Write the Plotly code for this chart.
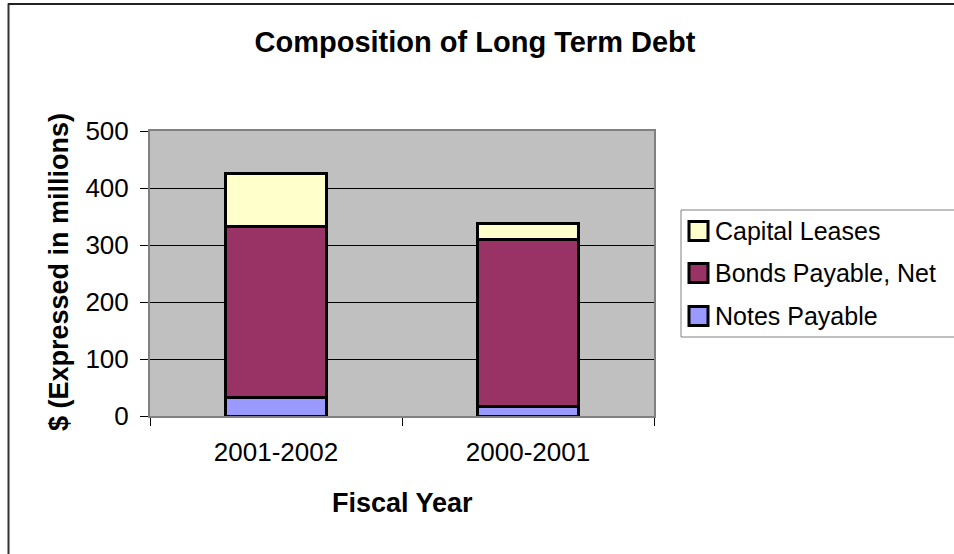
import plotly.graph_objects as go

categories = ["2001-2002", "2000-2001"]
notes_payable = [32, 16]
bonds_payable = [301, 294]
capital_leases = [92, 27]
series_names = ["Capital Leases", "Bonds Payable, Net", "Notes Payable"]
colors = {"Notes Payable": "#9999FF", "Bonds Payable, Net": "#993366", "Capital Leases": "#FFFFCC"}
y_ticks = [0, 100, 200, 300, 400, 500]

W, H = 954, 554
L, R, T, B = 150, 654, 131, 416  # plot area in pixels

def px(x):
    return (x - L) / (R - L)

def py(y):
    return (B - y) / (B - T)

FONT = "Liberation Sans, Arial, sans-serif"

fig = go.Figure()
for name, vals in [("Notes Payable", notes_payable),
                   ("Bonds Payable, Net", bonds_payable),
                   ("Capital Leases", capital_leases)]:
    fig.add_trace(go.Bar(x=categories, y=vals, name=name,
                         marker=dict(color=colors[name], line=dict(color="black", width=3)),
                         showlegend=False))

shapes = []
annotations = []
# chart border
shapes.append(dict(type="line", xref="paper", yref="paper", x0=px(8.5), x1=px(8.5), y0=py(3.5), y1=py(600),
                   line=dict(color="#333333", width=2)))
shapes.append(dict(type="line", xref="paper", yref="paper", x0=px(8), x1=px(1000), y0=py(4), y1=py(4),
                   line=dict(color="#222222", width=2)))
# legend box
shapes.append(dict(type="rect", xref="paper", yref="paper", x0=px(681), x1=px(1000), y0=py(210), y1=py(337),
                   line=dict(color="#808080", width=1), fillcolor="white"))
legend_y = [231, 273, 316]
for name, yc in zip(series_names, legend_y):
    shapes.append(dict(type="rect", xref="paper", yref="paper", x0=px(689), x1=px(708),
                       y0=py(yc + 9.5), y1=py(yc - 9.5),
                       line=dict(color="black", width=3), fillcolor=colors[name]))
    annotations.append(dict(text=name, xref="paper", yref="paper", x=px(713), y=py(yc),
                            xanchor="left", yanchor="middle", showarrow=False,
                            font=dict(family=FONT, size=25, color="black")))
# axis titles
annotations.append(dict(text="Fiscal Year", xref="paper", yref="paper", x=px(402), y=py(503),
                        xanchor="center", yanchor="middle", showarrow=False,
                        font=dict(family=FONT, size=27, color="black", weight="bold")))
annotations.append(dict(text="$ (Expressed in millions)", xref="paper", yref="paper", x=px(59), y=py(272),
                        xanchor="center", yanchor="middle", showarrow=False, textangle=-90,
                        font=dict(family=FONT, size=27, color="black", weight="bold")))

fig.update_layout(
    width=W, height=H,
    margin=dict(l=L, r=W - R, t=T, b=H - B, pad=0),
    paper_bgcolor="white", plot_bgcolor="#C0C0C0",
    barmode="stack", bargap=0.6,
    title=dict(text="Composition of Long Term Debt", x=475 / W, xanchor="center",
               y=1 - 42 / H, yanchor="middle",
               font=dict(family=FONT, size=29, color="black", weight="bold")),
    xaxis=dict(type="category", tickson="boundaries", ticks="outside", ticklen=8, tickcolor="black",
               showline=True, linecolor="#808080", linewidth=2, mirror=True,
               showgrid=False, tickfont=dict(family=FONT, size=26, color="black"),
               ticklabelstandoff=12),
    yaxis=dict(range=[0, 500], tickvals=y_ticks, ticks="outside", ticklen=8, tickcolor="black",
               showline=True, linecolor="#808080", linewidth=2, mirror=True,
               showgrid=True, gridcolor="black", gridwidth=1, zeroline=False,
               tickfont=dict(family=FONT, size=26, color="black"), ticklabelstandoff=6),
    shapes=shapes, annotations=annotations,
    showlegend=False,
)

fig.write_html("out.html", config={"displayModeBar": False},
               post_script="document.body.style.margin='0';document.body.style.overflow='hidden';")
